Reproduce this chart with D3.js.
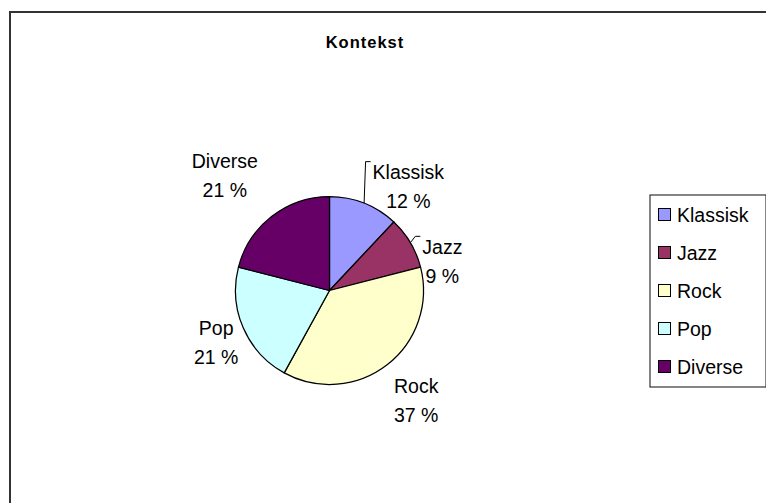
<!DOCTYPE html>
<html>
<head>
<meta charset="utf-8">
<script src="https://cdn.jsdelivr.net/npm/d3@7/dist/d3.min.js"></script>
<style>
  html, body { margin: 0; padding: 0; background: #fff; }
  svg { display: block; font-family: "Liberation Sans", Arial, sans-serif; }
</style>
</head>
<body>
<svg id="chart" width="766" height="503"></svg>
<script>
// Music genres in the "Kontekst" survey, share in percent
const chartTitle = "Kontekst";
const categories = ["Klassisk", "Jazz", "Rock", "Pop", "Diverse"];
const percents = [12, 9, 37, 21, 21];
const colours = ["#9999FF", "#993366", "#FFFFCC", "#CCFFFF", "#660066"];

// Layout
const W = 766, H = 503;
const cx = 329.5, cy = 290.5, radius = 94;
const labelRadius = 130;
const lineGap = 29;
const fontSize = 19.5;
// label placement adjustments (px) away from the centroid ring
const labelShift = {
  Klassisk: [31, 17], Jazz: [1, 37], Rock: [7, 7], Pop: [6, 0], Diverse: [-25, -12]
};
const leaderFor = new Set(["Klassisk", "Jazz"]);

const svg = d3.select("#chart");

// chart area frame
svg.append("rect")
  .attr("x", 10).attr("y", 12)
  .attr("width", W + 20).attr("height", H + 20)
  .attr("fill", "#fff")
  .attr("stroke", "#333").attr("stroke-width", 2);

svg.append("text")
  .attr("x", 365).attr("y", 48)
  .attr("text-anchor", "middle")
  .attr("font-size", 16.5).attr("font-weight", "bold")
  .attr("letter-spacing", 1)
  .text(chartTitle);

const data = categories.map((c, i) => ({ name: c, value: percents[i] }));
const colour = d3.scaleOrdinal().domain(categories).range(colours);

const pie = d3.pie().sort(null).value(d => d.value);
const arcs = pie(data);
const arc = d3.arc().innerRadius(0).outerRadius(radius);
const labelArc = d3.arc().innerRadius(labelRadius).outerRadius(labelRadius);

const g = svg.append("g").attr("transform", `translate(${cx},${cy})`);

g.selectAll("path.slice")
  .data(arcs)
  .join("path")
  .attr("class", "slice")
  .attr("d", arc)
  .attr("fill", d => colour(d.data.name))
  .attr("stroke", "#000")
  .attr("stroke-width", 1.25)
  .attr("stroke-linejoin", "round");

// data labels
arcs.forEach(d => {
  const [lx, ly] = labelArc.centroid(d);
  const [sx, sy] = labelShift[d.data.name];
  const mx = lx + sx, my = ly + sy;
  const lab = g.append("g");
  const t1 = lab.append("text")
    .attr("x", mx).attr("y", my - lineGap / 2 + 7)
    .attr("text-anchor", "middle").attr("font-size", fontSize)
    .text(d.data.name);
  const t2 = lab.append("text")
    .attr("x", mx).attr("y", my + lineGap / 2 + 7)
    .attr("text-anchor", "middle").attr("font-size", fontSize)
    .text(`${d.data.value} %`);
  if (leaderFor.has(d.data.name)) {
    const w = Math.max(t1.node().getComputedTextLength(), t2.node().getComputedTextLength());
    const a = (d.startAngle + d.endAngle) / 2;
    const ax = Math.sin(a) * radius, ay = -Math.cos(a) * radius;
    const ex = mx - w / 2 - 2, ey = my - lineGap + 4;
    g.append("polyline")
      .attr("points", [[ax, ay], [ex - 5, ey], [ex, ey]].map(p => p.join(",")).join(" "))
      .attr("fill", "none").attr("stroke", "#000").attr("stroke-width", 1);
  }
});

// legend
const legendX = 650, legendY = 195, legendW = 116, legendH = 192;
const lg = svg.append("g");
lg.append("rect")
  .attr("x", legendX).attr("y", legendY)
  .attr("width", legendW).attr("height", legendH)
  .attr("fill", "#fff").attr("stroke", "#333").attr("stroke-width", 1.2);

const rowY = d3.scalePoint().domain(categories).range([legendY + 20, legendY + legendH - 20]);

const rows = lg.selectAll("g.row").data(categories).join("g")
  .attr("class", "row")
  .attr("transform", c => `translate(${legendX + 8},${rowY(c)})`);
rows.append("rect")
  .attr("x", 0.5).attr("y", -6.5)
  .attr("width", 12).attr("height", 12)
  .attr("fill", c => colour(c))
  .attr("stroke", "#000").attr("stroke-width", 1);
rows.append("text")
  .attr("x", 19).attr("y", 7)
  .attr("font-size", fontSize)
  .text(c => c);
</script>
</body>
</html>
